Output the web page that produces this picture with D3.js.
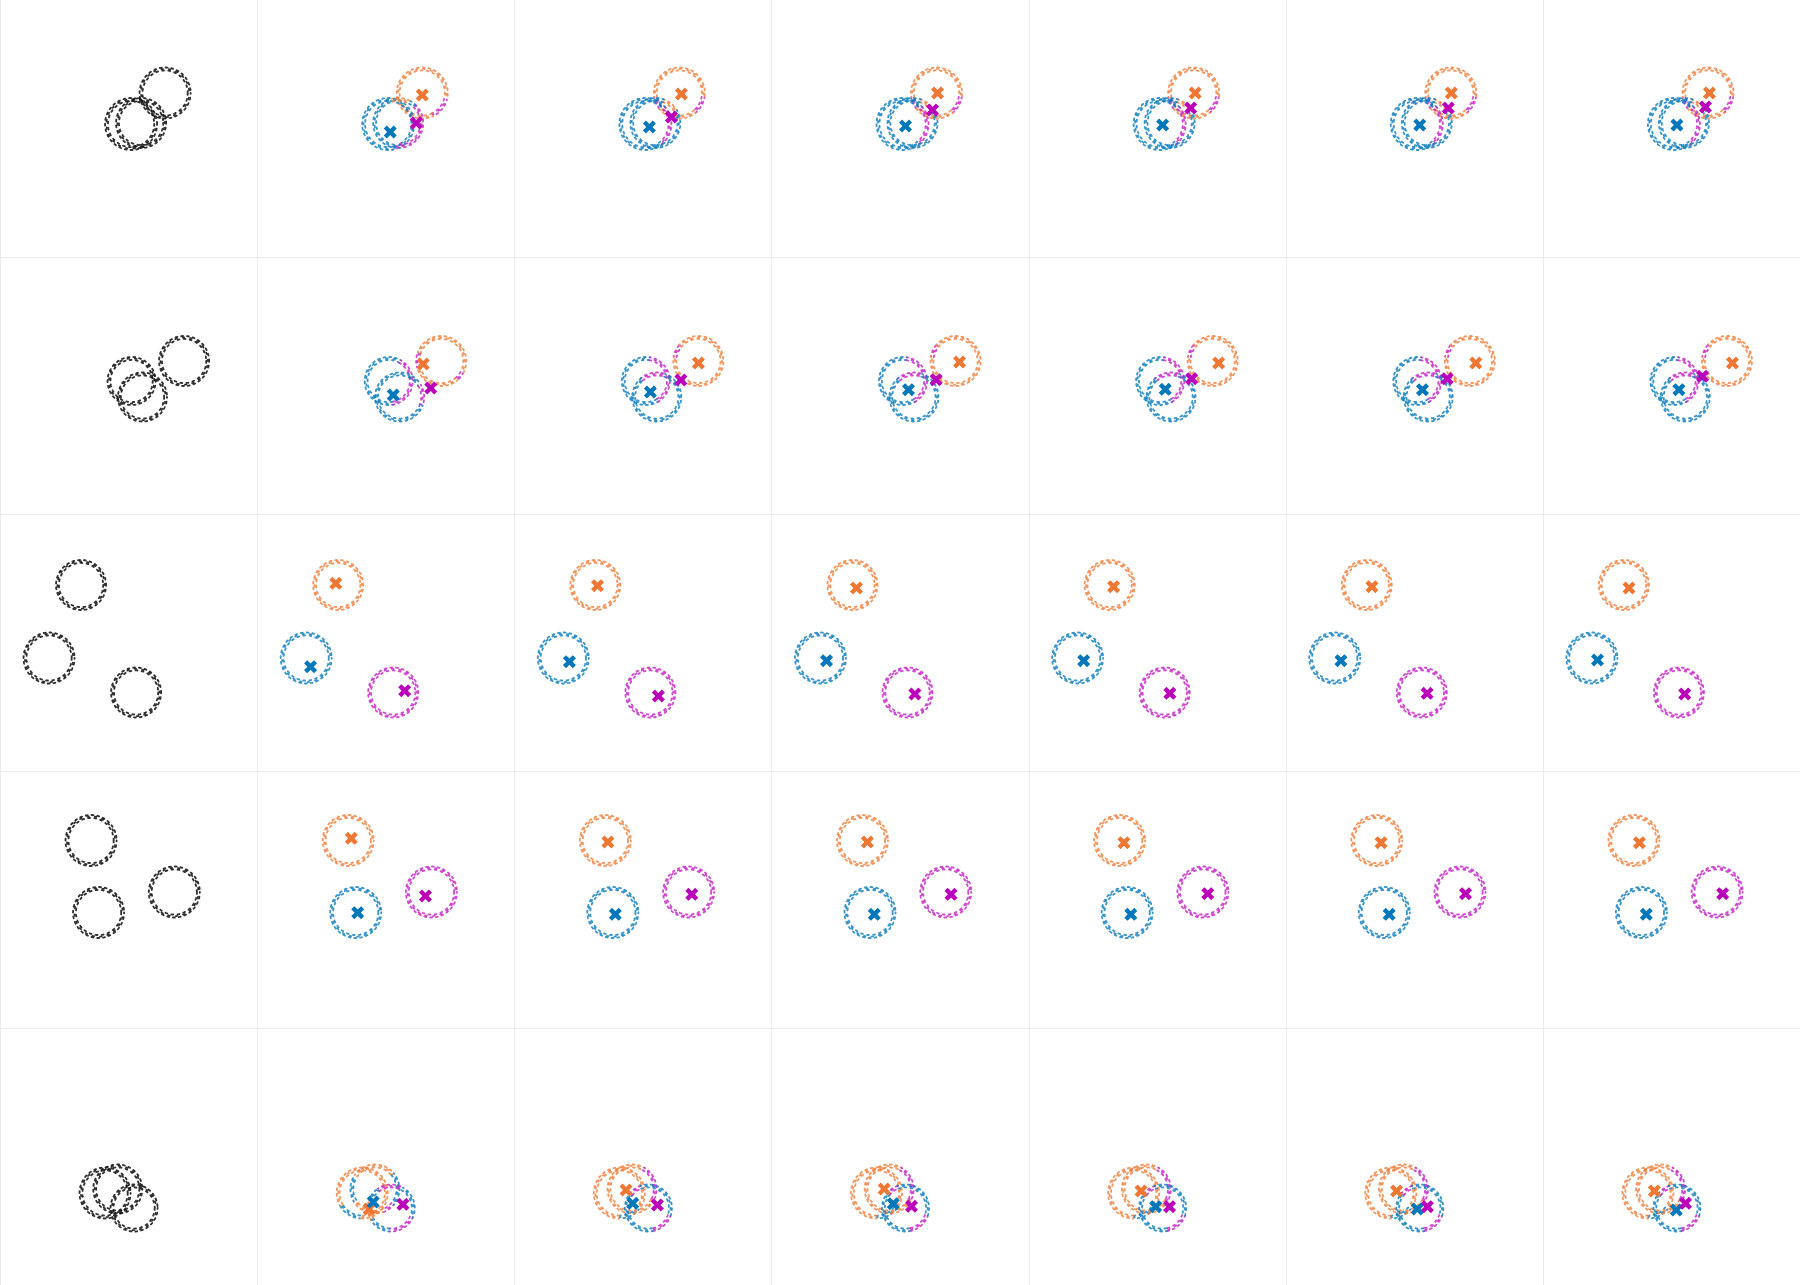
<!DOCTYPE html>
<html><head><meta charset="utf-8">
<script src="https://cdn.jsdelivr.net/npm/d3@7"></script>
<style>html,body{margin:0;padding:0;background:#fff}svg{display:block}</style>
</head><body><svg id="chart"></svg>
<script>
// ---- data (panel-local units, 0..257 on both axes) ----
const clusterNames = ["orange", "blue", "magenta"];
const columnLabels = ["data", "iter 1", "iter 2", "iter 3", "iter 4", "iter 5", "iter 6"];

// rings: [cx, cy, r]
const rings1 = [[165, 93, 24], [131, 124, 24.5], [141, 123, 23.5]];
const rings2 = [[184, 104, 23.5], [131.5, 124, 22.5], [142.4, 140, 23]];
const rings3 = [[81, 71, 23.5], [49, 144, 24], [136, 178.5, 23.5]];
const rings4 = [[91, 69.5, 24], [98.5, 141.5, 24], [174.2, 121, 24]];
const rings5 = [[105, 165, 24], [117.7, 161, 23], [134, 180, 22]];

// centroids per iteration column: [orange, blue, magenta]
const centroids1 = [
  [[165, 95], [133, 132], [159, 123]],
  [[167, 94], [135, 127], [157, 117]],
  [[166, 93], [134, 126], [161, 110]],
  [[166.5, 93], [134, 125], [162, 108]],
  [[165.5, 93], [134, 125], [162.5, 108]],
  [[166.5, 93], [134, 125], [162.5, 107]]
];
const centroids2 = [
  [[166, 107], [136, 138], [173.5, 131]],
  [[184, 106], [136, 135], [166.5, 123]],
  [[188, 105], [137, 132.7], [164.6, 122.7]],
  [[190, 106], [136.6, 132.3], [163, 121.7]],
  [[190, 106], [136.7, 132.7], [161.4, 121.7]],
  [[189.5, 106], [136, 132.7], [159.6, 119.3]]
];
const centroids3 = [
  [[78.6, 69.3], [53.4, 152.7], [147.5, 176.7]],
  [[83.2, 71.7], [55.1, 147.7], [144, 182]],
  [[85, 74], [55.1, 146.7], [143.4, 180]],
  [[85, 72.7], [55.1, 146.7], [141.2, 179.3]],
  [[86.2, 72.7], [55.2, 146.7], [141.3, 179.3]],
  [[86.1, 74], [54.6, 146], [141.8, 180]]
];
const centroids4 = [
  [[94.1, 67.3], [100.5, 141.7], [168.2, 125]],
  [[93.6, 71], [101, 143.3], [177.4, 123.3]],
  [[95.9, 71], [102.8, 143.3], [179.5, 123.3]],
  [[95.3, 71.7], [102.2, 143.3], [179.1, 122.7]],
  [[95.3, 71.7], [103.4, 143.3], [179.7, 122.7]],
  [[96.5, 71.7], [103.4, 143.3], [179.7, 122.7]]
];
const centroids5 = [
  [[112, 181], [116, 174], [145.7, 176.3]],
  [[111.7, 162], [118.4, 175.3], [143, 177]],
  [[112.7, 161], [121.8, 175.7], [140, 178.3]],
  [[112.4, 163], [127, 178.7], [140.9, 178.7]],
  [[110.8, 163], [131.5, 181], [141.6, 178.7]],
  [[111.4, 163], [133.4, 182], [142.6, 175.3]]
];

// cluster arcs on each ring: [startDeg, endDeg, cluster] (0deg = right, clockwise on screen)
// first iteration column, then the later columns
const arcsFirst1 = [
  [[0, 360, 0], [15, 65, 2]],
  [[0, 360, 1], [55, 80, 2]],
  [[0, 360, 1], [-45, 85, 2], [255, 300, 0]]
];
const arcsLater1 = [
  [[0, 360, 0], [10, 50, 2], [145, 170, 2]],
  [[0, 360, 1], [-40, 50, 2]],
  [[0, 360, 1], [290, 330, 0]]
];
const arcsFirst2 = [
  [[0, 360, 0], [165, 200, 2], [30, 50, 2]],
  [[0, 360, 1], [-60, 80, 2]],
  [[0, 360, 1], [-30, 20, 2]]
];
const arcsLater2 = [
  [[0, 360, 0], [190, 220, 2]],
  [[0, 360, 1], [-80, 60, 2]],
  [[0, 360, 1], [230, 290, 2]]
];
const arcsAll3 = [[[0, 360, 0]], [[0, 360, 1]], [[0, 360, 2]]];
const arcsAll4 = [[[0, 360, 0]], [[0, 360, 1]], [[0, 360, 2]]];
const arcsFirst5 = [
  [[0, 360, 0], [95, 150, 1]],
  [[0, 360, 0], [150, 215, 1], [-40, 40, 1], [40, 70, 2]],
  [[0, 360, 1], [25, 95, 2], [235, 300, 2], [150, 200, 0]]
];
const arcsLater5 = [
  [[0, 360, 0], [40, 90, 1]],
  [[0, 360, 0], [-60, 30, 2]],
  [[0, 360, 1], [20, 80, 2], [220, 250, 2]]
];

const rowsData = [
  { rings: rings1, centroids: centroids1, arcsFirst: arcsFirst1, arcsLater: arcsLater1 },
  { rings: rings2, centroids: centroids2, arcsFirst: arcsFirst2, arcsLater: arcsLater2 },
  { rings: rings3, centroids: centroids3, arcsFirst: arcsAll3, arcsLater: arcsAll3 },
  { rings: rings4, centroids: centroids4, arcsFirst: arcsAll4, arcsLater: arcsAll4 },
  { rings: rings5, centroids: centroids5, arcsFirst: arcsFirst5, arcsLater: arcsLater5 }
];

// ---- drawing ----
const W = 1800, H = 1285, nCols = columnLabels.length, nRows = rowsData.length;
const pw = W / nCols, ph = H / nRows;
const pointColor = d3.scaleOrdinal().domain([0, 1, 2, -1]).range(["#ef7f3c", "#0b7cbd", "#c41fc4", "#1b1b1b"]);
const markColor = d3.scaleOrdinal().domain([0, 1, 2]).range(["#ee7733", "#0077bb", "#bb00bb"]);

const svg = d3.select("#chart").attr("width", W).attr("height", H);
svg.append("rect").attr("width", W).attr("height", H).attr("fill", "#fff");

// grid separators
const grid = svg.append("g").attr("stroke", "#ececec").attr("stroke-width", 1);
d3.range(0, nCols).forEach(c => grid.append("line")
  .attr("x1", Math.round(c * pw) + 0.5).attr("x2", Math.round(c * pw) + 0.5).attr("y1", 0).attr("y2", H));
d3.range(1, nRows).forEach(r => grid.append("line")
  .attr("y1", Math.round(r * ph) + 0.5).attr("y2", Math.round(r * ph) + 0.5).attr("x1", 0).attr("x2", W));

const x = d3.scaleLinear().domain([0, 257]).range([0, pw]);
const y = d3.scaleLinear().domain([0, 257]).range([0, ph]);

function inArc(deg, s, e) {
  const span = ((e - s) % 360 + 360) % 360 || 360;
  const d = ((deg - s) % 360 + 360) % 360;
  return d <= span;
}
function segmentsFor(arcs) {
  const lab = d3.range(360).map(deg => {
    let c = arcs[0][2];
    arcs.forEach(a => { if (inArc(deg + 0.5, a[0], a[1])) c = a[2]; });
    return c;
  });
  let startIdx = 0;
  for (let i = 0; i < 360; i++) if (lab[i] !== lab[(i + 359) % 360]) { startIdx = i; break; }
  const segs = [];
  let cur = null;
  for (let k = 0; k < 360; k++) {
    const i = (startIdx + k) % 360;
    if (!cur || cur.c !== lab[i]) { cur = { s: startIdx + k, e: startIdx + k + 1, c: lab[i] }; segs.push(cur); }
    else cur.e = startIdx + k + 1;
  }
  return segs;
}
const line = d3.line();
function arcPath(cx, cy, rr, s, e) {
  const pts = d3.range(s, e + 0.001, 1.5).map(a => {
    const t = a * Math.PI / 180;
    return [x(cx + rr * Math.cos(t)), y(cy + rr * Math.sin(t))];
  });
  return line(pts);
}
// the ring's point band is drawn as three interleaved dotted strokes
const ringLayers = [
  { dr: -1.4, dash: "1.8 4.3", off: 0, w: 1.9 },
  { dr: 0.1, dash: "1.6 5.9", off: 2.7, w: 1.8 },
  { dr: 1.5, dash: "1.9 3.9", off: 1.1, w: 1.9 }
];
function drawRing(g, ring, segs) {
  const [cx, cy, r] = ring;
  segs.forEach(sg => {
    ringLayers.forEach(L => {
      g.append("path")
        .attr("d", arcPath(cx, cy, r + L.dr, sg.s, sg.e))
        .attr("fill", "none")
        .attr("stroke", pointColor(sg.c))
        .attr("stroke-opacity", sg.c === -1 ? 0.9 : 0.8)
        .attr("stroke-width", L.w)
        .attr("stroke-linecap", "round")
        .attr("stroke-dasharray", L.dash)
        .attr("stroke-dashoffset", L.off);
    });
  });
}
// filled "X" marker shape
function xMarker(size, arm) {
  const L = size, a = arm;
  const plus = [[a, L], [a, a], [L, a], [L, -a], [a, -a], [a, -L], [-a, -L], [-a, -a], [-L, -a], [-L, a], [-a, a], [-a, L]];
  const c = Math.SQRT1_2;
  return "M" + plus.map(([px, py]) => [(px - py) * c, (px + py) * c].map(v => v.toFixed(2)).join(",")).join("L") + "Z";
}
const xShape = xMarker(7, 2.2);

rowsData.forEach((row, ri) => {
  d3.range(nCols).forEach(ci => {
    const g = svg.append("g").attr("transform", `translate(${ci * pw},${ri * ph})`);
    if (ci === 0) {
      row.rings.forEach(ring => drawRing(g, ring, [{ s: 0, e: 360, c: -1 }]));
    } else {
      const arcs = ci === 1 ? row.arcsFirst : row.arcsLater;
      row.rings.forEach((ring, k) => drawRing(g, ring, segmentsFor(arcs[k])));
      const cents = row.centroids[ci - 1];
      g.selectAll("path.centroid").data(cents).enter().append("path")
        .attr("class", "centroid")
        .attr("d", xShape)
        .attr("transform", d => `translate(${x(d[0])},${y(d[1])})`)
        .attr("fill", (d, i) => markColor(i));
    }
  });
});
</script>
</body></html>
